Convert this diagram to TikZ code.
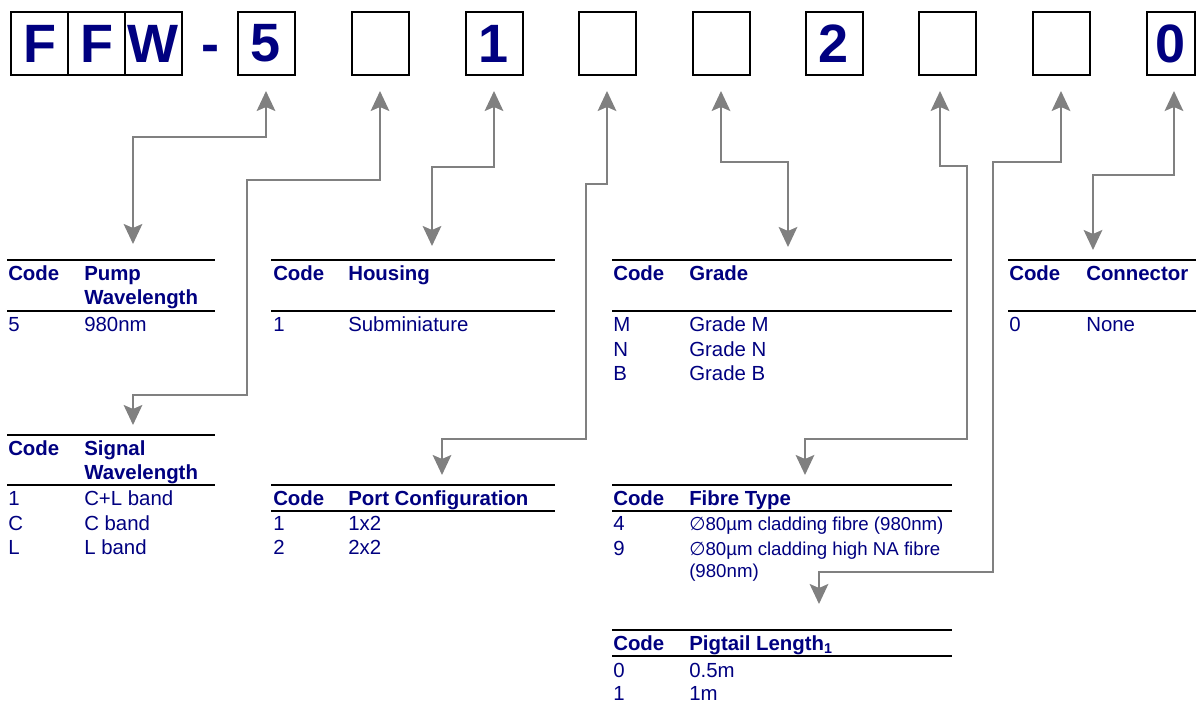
\documentclass[tikz,border=0pt]{standalone}
\usepackage{fontspec}
\setmainfont{Liberation Sans}
\newfontfamily\symbfont{DejaVu Sans}
\usetikzlibrary{arrows.meta}
\definecolor{codeblue}{RGB}{0,0,128}
\definecolor{linkgray}{RGB}{128,128,128}
\newcommand{\bigcodefont}{\fontsize{40.5}{44}\selectfont\bfseries}
\newcommand{\tabfont}{\fontsize{15.3}{18}\selectfont}
\newcommand{\smalltabfont}{\fontsize{14}{17}\selectfont}
\newcommand{\diam}{{\symbfont\char"2205}}

\tikzset{
  digitbox/.style={draw, line width=1.5pt, minimum width=42.75pt, minimum height=47.25pt,
    inner sep=0pt, text=codeblue, font=\bigcodefont},
  hd/.style={anchor=base west, inner sep=0pt, text=codeblue, font=\tabfont\bfseries},
  entry/.style={anchor=base west, inner sep=0pt, text=codeblue, font=\tabfont},
  smallentry/.style={anchor=base west, inner sep=0pt, text=codeblue, font=\smalltabfont},
  tabrule/.style={line width=1.5pt},
  link/.style={draw=linkgray, line width=1.5pt,
    {Stealth[length=15pt,width=14pt,inset=3pt]}-{Stealth[length=15pt,width=14pt,inset=3pt]}}
}

\begin{document}
\begin{tikzpicture}[x=0.75pt,y=-0.75pt]
\useasboundingbox (0,0) rectangle (1196,702);

      %% part number boxes
      \node[digitbox] (f1) at (39.9,43.5) {F};
      \node[digitbox] (f2) at (96.6,43.5) {F};
      \node[digitbox] (w) at (153.4,43.5) {W};
      \node[anchor=base, inner sep=0pt, text=codeblue, font=\bigcodefont] (dash) at (210,63) {-};
      \foreach \n/\x/\t in {1/266/5, 2/380/{}, 3/494/1, 4/607/{}, 5/721/{},
                            6/834/2, 7/947/{}, 8/1061/{}}
      { \node[digitbox] (d\n) at (\x,43.5) {\t};}
      \node[digitbox, minimum width=36pt] (d9) at (1170.5,43.5) {0};

      %% arrow ends at the tables
      \coordinate (pumptip) at (133,244);
      \coordinate (sigtip) at (133,425);
      \coordinate (houstip) at (432,246);
      \coordinate (porttip) at (442,475);
      \coordinate (gradetip) at (788,247);
      \coordinate (fibretip) at (805,475);
      \coordinate (pigtip) at (819,604);
      \coordinate (conntip) at (1093,250);

      \draw[link] ([yshift=-11.25pt]d1.south) |- (133,137) -- (pumptip);
      \draw[link] ([yshift=-11.25pt]d2.south) |- (247,180) |- (133,395) -- (sigtip);
      \draw[link] ([yshift=-11.25pt]d3.south) |- (432,167) -- (houstip);
      \draw[link] ([yshift=-11.25pt]d4.south) |- (586,184) |- (442,439) -- (porttip);
      \draw[link] ([yshift=-11.25pt]d5.south) |- (788,162) -- (gradetip);
      \draw[link] ([xshift=-5.25pt,yshift=-11.25pt]d7.south) |- (967,166) |- (805,439) -- (fibretip);
      \draw[link] ([yshift=-11.25pt]d8.south) |- (993,162) |- (819,572) -- (pigtip);
      \draw[link] ([xshift=2.6pt,yshift=-11.25pt]d9.south) |- (1093,175) -- (conntip);

      %% pump wavelength
      \draw[tabrule] (7,260) -- (215,260);
      \draw[tabrule] (7,311) -- (215,311);
      \node[hd] (pumpc) at (8,281) {Code};
      \node[hd] (pumph) at (84,281) {Pump};
      \node[hd] (pumph2) at (84,305) {Wavelength};
      \node[entry] (pumpc1) at (8,331) {5};
      \node[entry] (pumpv1) at (84,331) {980nm};

      %% housing
      \draw[tabrule] (271,260) -- (555,260);
      \draw[tabrule] (271,311) -- (555,311);
      \node[hd] (housc) at (273,281) {Code};
      \node[hd] (housh) at (348,281) {Housing};
      \node[entry] (housc1) at (273,331) {1};
      \node[entry] (housv1) at (348,331) {Subminiature};

      %% grade
      \draw[tabrule] (612,260) -- (952,260);
      \draw[tabrule] (612,311) -- (952,311);
      \node[hd] (gradec) at (613,281) {Code};
      \node[hd] (gradeh) at (689,281) {Grade};
      \foreach \k/\y in {M/331, N/356, B/380}
      { \node[entry] (gradec\k) at (613,\y) {\k};
        \node[entry] (gradev\k) at (689,\y) {Grade \k};}

      %% connector
      \draw[tabrule] (1008,260) -- (1196,260);
      \draw[tabrule] (1008,311) -- (1196,311);
      \node[hd] (connc) at (1009,281) {Code};
      \node[hd] (connh) at (1086,281) {Connector};
      \node[entry] (connc1) at (1009,331) {0};
      \node[entry] (connv1) at (1086,331) {None};

      %% signal wavelength
      \draw[tabrule] (7,435) -- (215,435);
      \draw[tabrule] (7,485) -- (215,485);
      \node[hd] (sigc) at (8,455) {Code};
      \node[hd] (sigh) at (84,455) {Signal};
      \node[hd] (sigh2) at (84,479) {Wavelength};
      \node[entry] (sigc1) at (8,505) {1};
      \node[entry] (sigv1) at (84,505) {C+L band};
      \node[entry] (sigc2) at (8,530) {C};
      \node[entry] (sigv2) at (84,530) {C band};
      \node[entry] (sigc3) at (8,554) {L};
      \node[entry] (sigv3) at (84,554) {L band};

      %% port configuration
      \draw[tabrule] (271,485) -- (555,485);
      \draw[tabrule] (271,511) -- (555,511);
      \node[hd] (portc) at (273,505) {Code};
      \node[hd] (porth) at (348,505) {Port Configuration};
      \node[entry] (portc1) at (273,530) {1};
      \node[entry] (portv1) at (348,530) {1x2};
      \node[entry] (portc2) at (273,554) {2};
      \node[entry] (portv2) at (348,554) {2x2};

      %% fibre type
      \draw[tabrule] (612,485) -- (952,485);
      \draw[tabrule] (612,511) -- (952,511);
      \node[hd] (fibrec) at (613,505) {Code};
      \node[hd] (fibreh) at (689,505) {Fibre Type};
      \node[entry] (fibrec1) at (613,530) {4};
      \node[smallentry] (fibrev1) at (689,530) {\diam80µm cladding fibre (980nm)};
      \node[entry] (fibrec2) at (613,555) {9};
      \node[smallentry] (fibrev2) at (689,555) {\diam80µm cladding high NA fibre};
      \node[smallentry] (fibrev3) at (689,577) {(980nm)};

      %% pigtail length
      \draw[tabrule] (612,630) -- (952,630);
      \draw[tabrule] (612,656) -- (952,656);
      \node[hd] (pigc) at (613,650) {Code};
      \node[hd] (pigh) at (689,650) {Pigtail Length\textsubscript{1}};
      \node[entry] (pigc1) at (613,677) {0};
      \node[entry] (pigv1) at (689,677) {0.5m};
      \node[entry] (pigc2) at (613,700) {1};
      \node[entry] (pigv2) at (689,700) {1m};

\end{tikzpicture}
\end{document}
